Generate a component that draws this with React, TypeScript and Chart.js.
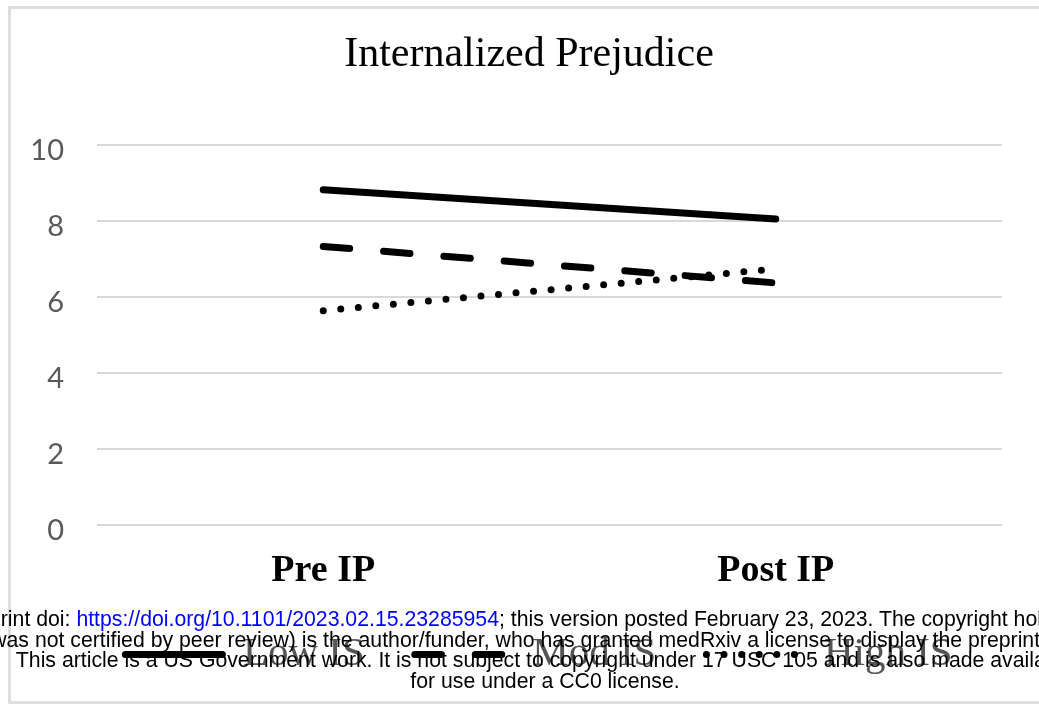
import React, { useEffect, useRef } from 'react';
import { Chart, registerables } from 'chart.js';

Chart.register(...registerables);

const categories = ['Pre IP', 'Post IP'];
const lowIS = [8.82, 8.05];
const modIS = [7.33, 6.37];
const highIS = [5.64, 6.74];
const seriesNames = ['Low IS', 'Mod IS', 'High IS'];
const yTicks = [0, 2, 4, 6, 8, 10];
const chartTitle = 'Internalized Prejudice';

const watermarkLine1Pre = 'medRxiv preprint doi: ';
const watermarkLink = 'https://doi.org/10.1101/2023.02.15.23285954';
const watermarkLine1Post = '; this version posted February 23, 2023. The copyright holder for this preprint';
const watermarkLine2 = '(which was not certified by peer review) is the author/funder, who has granted medRxiv a license to display the preprint in perpetuity.';
const watermarkLine3 = 'This article is a US Government work. It is not subject to copyright under 17 USC 105 and is also made available';
const watermarkLine4 = 'for use under a CC0 license.';

const SERIF = "'Liberation Serif', 'Times New Roman', serif";

const legendShift = {
  id: 'legendShift',
  afterLayout(chart: any) {
    if (chart.legend) {
      chart.legend.left += 10;
      chart.legend.right += 10;
    }
  },
};

export default function App() {
  const ref = useRef<HTMLCanvasElement | null>(null);

  useEffect(() => {
    if (!ref.current) return;
    const chart = new Chart(ref.current, {
      type: 'line',
      data: {
        labels: categories,
        datasets: [
          {
            label: seriesNames[0],
            data: lowIS,
            borderColor: '#000',
            backgroundColor: '#000',
            borderWidth: 7,
            borderCapStyle: 'round',
            pointRadius: 0,
          },
          {
            label: seriesNames[1],
            data: modIS,
            borderColor: '#000',
            backgroundColor: '#000',
            borderWidth: 7,
            borderDash: [26.5, 34],
            borderCapStyle: 'round',
            pointRadius: 0,
          },
          {
            label: seriesNames[2],
            data: highIS,
            borderColor: '#000',
            backgroundColor: '#000',
            borderWidth: 7,
            borderDash: [0, 17.6],
            borderCapStyle: 'round',
            pointRadius: 0,
          },
        ],
      },
      plugins: [legendShift],
      options: {
        animation: false,
        responsive: false,
        devicePixelRatio: 1,
        layout: { padding: { left: 0, right: 0, top: 0, bottom: 16 } },
        plugins: {
          tooltip: { enabled: false },
          title: {
            display: true,
            text: chartTitle,
            color: '#000',
            font: { family: SERIF, size: 42, weight: 'normal' },
            padding: { top: 21, bottom: 64.6 },
          },
          legend: {
            display: true,
            position: 'bottom',
            labels: {
              usePointStyle: true,
              pointStyle: 'line',
              pointStyleWidth: 97,
              boxHeight: 10,
              padding: 50,
              color: '#555',
              font: { family: SERIF, size: 41 },
              generateLabels: (c: any) =>
                c.data.datasets.map((ds: any, i: number) => ({
                  text: ds.label,
                  fillStyle: 'rgba(0,0,0,0)',
                  strokeStyle: ds.borderColor,
                  lineWidth: ds.borderWidth,
                  lineDash: ds.borderDash || [],
                  lineCap: 'round',
                  pointStyle: 'line',
                  hidden: false,
                  datasetIndex: i,
                  fontColor: '#555',
                })),
            },
          },
        },
        scales: {
          x: {
            type: 'category',
            offset: true,
            grid: { display: false, drawTicks: false },
            border: { display: false },
            ticks: {
              color: '#000',
              font: { family: SERIF, size: 38, weight: 'bold' },
              padding: 23,
            },
            afterFit: (scale: any) => {
              scale.height = 59;
            },
          },
          y: {
            min: 0,
            max: 10,
            afterBuildTicks: (scale: any) => {
              scale.ticks = yTicks.map((v) => ({ value: v }));
            },
            grid: { color: '#d9d9d9', lineWidth: 2, drawTicks: false },
            border: { display: false },
            ticks: {
              color: '#595959',
              font: { family: 'Lato, "Open Sans", sans-serif', size: 29 },
              padding: 33,
              labelOffset: 6,
            },
            afterFit: (scale: any) => {
              scale.width = 86;
            },
          },
          yRight: {
            position: 'right',
            display: true,
            grid: { display: false, drawTicks: false },
            border: { display: false },
            ticks: { display: false },
            afterFit: (scale: any) => {
              scale.width = 45;
            },
          },
        },
      },
    });
    return () => chart.destroy();
  }, []);

  const lineStyle = (top: number): React.CSSProperties => ({
    position: 'absolute',
    left: 545,
    top,
    transform: 'translateX(-50%)',
    whiteSpace: 'nowrap',
    fontFamily: "'Liberation Sans', Arial, sans-serif",
    fontSize: 21.25,
    lineHeight: '21px',
    color: '#000',
  });

  return (
    <div>
      <div
        style={{
          position: 'fixed',
          left: 8,
          top: 6,
          width: 1031,
          height: 698,
          boxSizing: 'border-box',
          border: '3px solid #dedede',
          borderRight: 'none',
          background: '#fff',
          overflow: 'hidden',
        }}
      >
        <canvas ref={ref} width={1036} height={692} style={{ display: 'block', width: 1036, height: 692 }} />
      </div>
      <div
        style={{
          position: 'fixed',
          left: 0,
          top: 0,
          width: 1039,
          height: 706,
          overflow: 'hidden',
          pointerEvents: 'none',
        }}
      >
        <div style={lineStyle(609)}>
          {watermarkLine1Pre}
          <span style={{ color: '#0000ff' }}>{watermarkLink}</span>
          {watermarkLine1Post}
        </div>
        <div style={lineStyle(629.5)}>{watermarkLine2}</div>
        <div style={lineStyle(650)}>{watermarkLine3}</div>
        <div style={lineStyle(670.5)}>{watermarkLine4}</div>
      </div>
    </div>
  );
}
